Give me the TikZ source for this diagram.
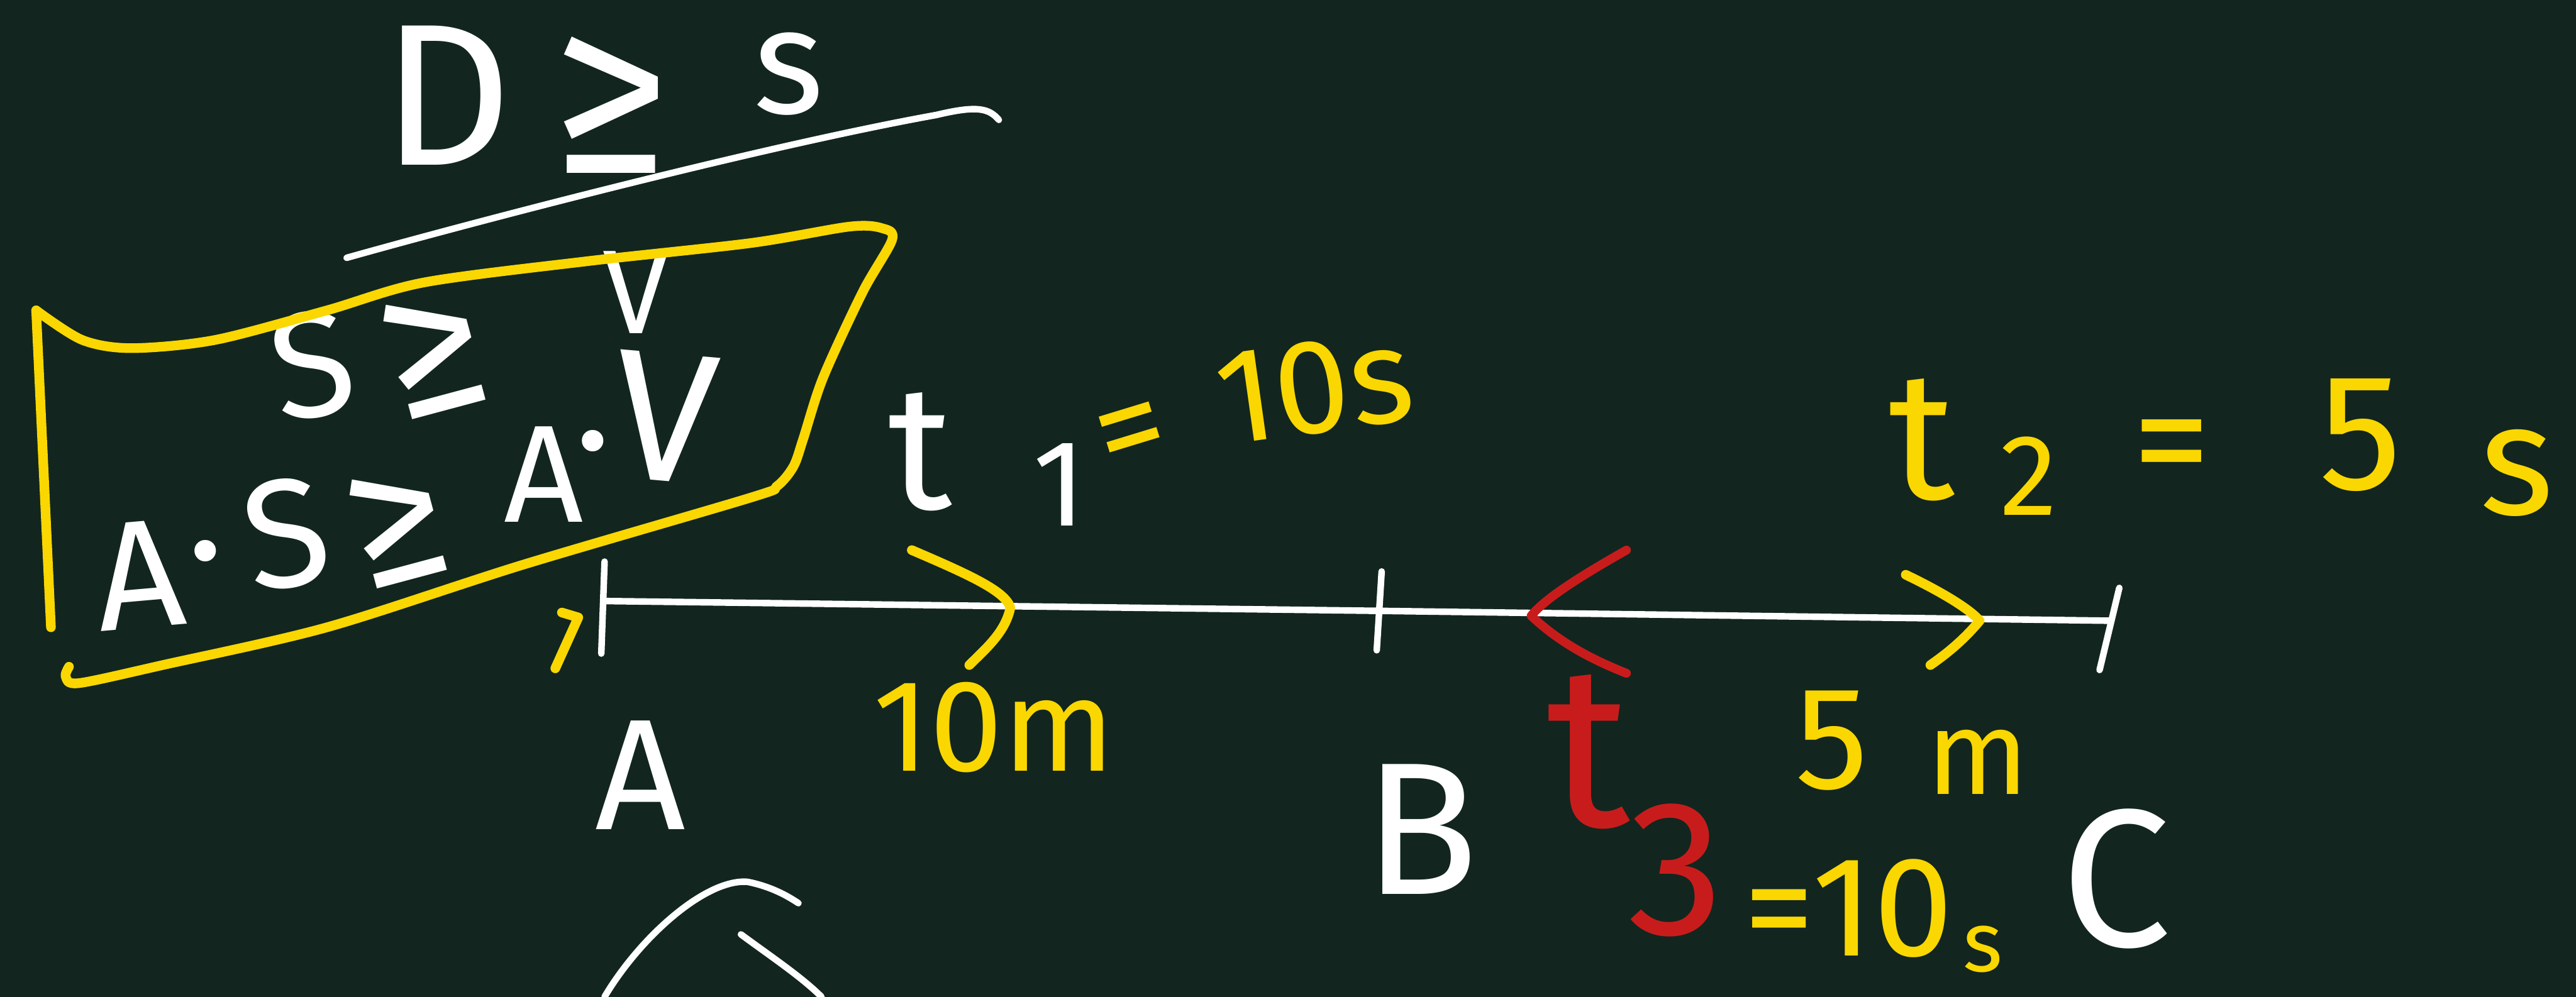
\documentclass[tikz,border=0pt]{standalone}
\usepackage{fontspec}
\setmainfont{Fira Sans}
\usepackage{xcolor}
\usepackage{tikz}
\usetikzlibrary{positioning}
\definecolor{board}{RGB}{18,38,31}
\definecolor{chalkyellow}{RGB}{250,215,0}
\definecolor{chalkred}{RGB}{200,28,28}
\newcommand{\chalkfont}[1]{\fontsize{#1pt}{#1pt}\selectfont}

\begin{document}
\begin{tikzpicture}[x=0.03cm,y=-0.03cm,line cap=round,line join=round]
  \tikzstyle{chalk}=[white,inner sep=0pt]
  \tikzstyle{hilite}=[chalkyellow,inner sep=0pt]
  \tikzstyle{redchalk}=[chalkred,inner sep=0pt]
  \tikzstyle{chalkline}=[white,line width=3.4pt]
  \tikzstyle{hiline}=[chalkyellow,line width=5pt]
  \tikzstyle{redline}=[chalkred,line width=4.6pt]
  \fill[board] (0,0) rectangle (1568,607);
  \useasboundingbox (0,0) rectangle (1568,607);

  % D >= s
  \node[chalk,font=\chalkfont{105}] (dD) at (272,58) {D};
  \node[chalk,font=\chalkfont{122}] (dge) at (372,64) {≥};
  \node[chalk,font=\chalkfont{78}] (ds) at (480,45) {s};
  \draw[chalkline] (211,157) .. controls (300,132) and (470,88) .. (570,70)
    .. controls (595,64) and (602,66) .. (608,73);

  % S >= V
  \node[chalk,font=\chalkfont{78},rotate=10] (sS) at (190,222) {S};
  \node[chalk,font=\chalkfont{105},rotate=15] (sge) at (264,215) {≥};
  \node[chalk,font=\chalkfont{62}] (sV) at (387,178) {V};

  % A.S >= A.V
  \node[chalk,font=\chalkfont{80},rotate=5] (aA) at (85,350) {A};
  \node[chalk,font=\chalkfont{80}] (adot) at (125,347) {·};
  \node[chalk,font=\chalkfont{80},rotate=10] (aS) at (174,325) {S};
  \node[chalk,font=\chalkfont{100},rotate=15] (age) at (242,320) {≥};
  \node[chalk,font=\chalkfont{72}] (aA2) at (331,289) {A};
  \node[chalk,font=\chalkfont{80}] (adot2) at (361,280) {·};
  \node[chalk,font=\chalkfont{96},rotate=-5] (aV) at (405,254) {V};

  \draw[hiline] (31,382) -- (22,189);
  \draw[hiline] plot[smooth] coordinates {(22,189) (50,207) (80,212) (131,207)
    (199,189) (258,172) (358,159) (457,148) (517,138) (537,139) (543,146)
    (525,178) (501,230) (489,267) (483,284) (473,296) (457,303) (318,344)
    (199,382) (99,405) (48,416) (40,412) (42,406)};

  % line A -- B -- C
  \coordinate (pa) at (368,366);
  \coordinate (pb) at (840,372);
  \coordinate (pc) at (1285,378);
  \draw[chalkline] (pa) -- (pb) -- (pc);
  \draw[chalkline] (368,342) -- (366,398);
  \draw[chalkline] (841,348) -- (838,396);
  \draw[chalkline] (1290,358) -- (1278,408);
  \draw[hiline] (342,373) -- (352,376) -- (338,407);
  \draw[hiline] (555,335) .. controls (590,350) and (612,360) .. (615,370)
    .. controls (612,385) and (600,395) .. (590,405);
  \draw[hiline] (1160,350) .. controls (1185,362) and (1200,372) .. (1205,378)
    .. controls (1195,390) and (1185,398) .. (1175,405);
  \draw[redline] (990,335) .. controls (960,352) and (940,365) .. (932,375)
    .. controls (950,392) and (970,402) .. (990,410);

  \node[chalk,font=\chalkfont{82}] (ptA) at (390,472) {A};
  \node[chalk,font=\chalkfont{98}] (ptB) at (865,505) {B};
  \node[chalk,font=\chalkfont{102}] (ptC) at (1288,535) {C};
  \node[hilite,font=\chalkfont{68}] (dab) at (605,443) {10m};
  \node[hilite,font=\chalkfont{76}] (dbcf) at (1115,451) {5};
  \node[hilite,font=\chalkfont{62}] (dbcm) at (1204,464) {m};

  % t1 = 10s
  \node[chalk,font=\chalkfont{92}] (tone) at (560,275) {t};
  \node[chalk,font=\chalkfont{64}] (toneidx) at (645,295) {1};
  \node[hilite,font=\chalkfont{72},rotate=17] (toneeq) at (690,268) {=};
  \node[hilite,font=\chalkfont{70},rotate=8] (tonev) at (800,236) {10s};

  % t2 = 5s
  \node[hilite,font=\chalkfont{95}] (ttwo) at (1170,268) {t};
  \node[hilite,font=\chalkfont{60}] (ttwoidx) at (1235,290) {2};
  \node[hilite,font=\chalkfont{82}] (ttwoeq) at (1322,278) {=};
  \node[hilite,font=\chalkfont{86}] (ttwof) at (1437,265) {5};
  \node[hilite,font=\chalkfont{82}] (ttwos) at (1532,288) {s};

  % t3 = 10s
  \node[redchalk,font=\chalkfont{120}] (tthree) at (967,458) {t};
  \node[redchalk,font=\chalkfont{100}] (three) at (1020,530) {3};
  \node[hilite,font=\chalkfont{74}] (tthreev) at (1125,553) {=10};
  \node[hilite,font=\chalkfont{44}] (tthrees) at (1207,578) {s};

  % unfinished stroke
  \draw[chalkline] (368,607) .. controls (390,570) and (430,535) .. (455,537)
    .. controls (470,540) and (480,546) .. (486,550);
  \draw[chalkline] (451,569) .. controls (470,583) and (488,595) .. (500,607);
\end{tikzpicture}
\end{document}
